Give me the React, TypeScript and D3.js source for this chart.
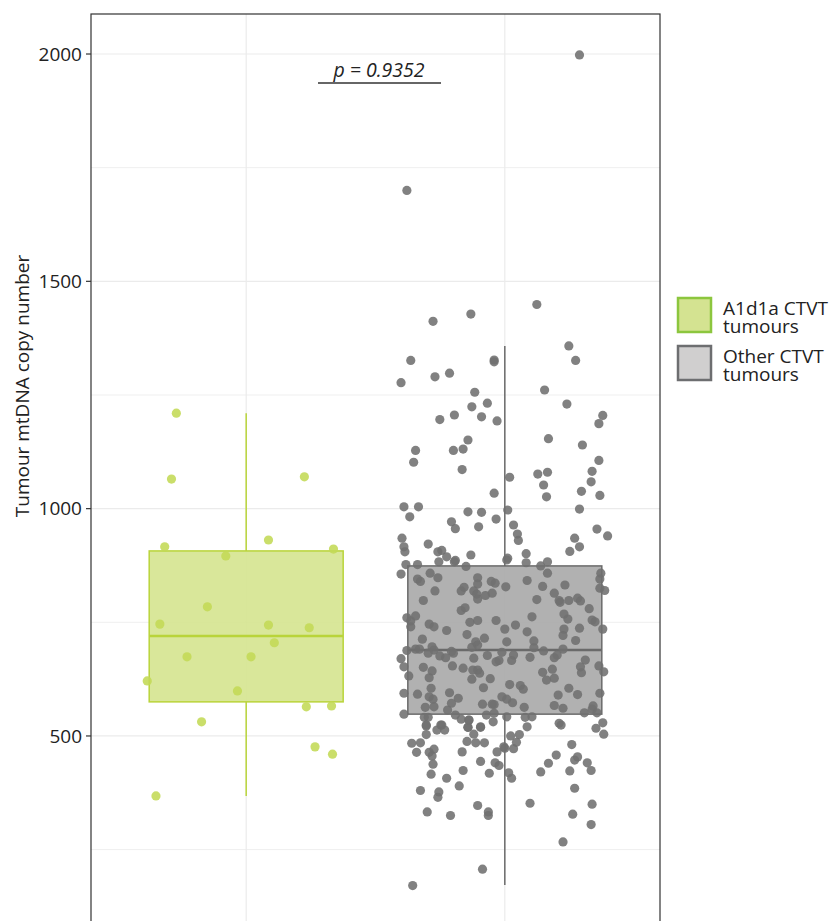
import React from 'react';
import * as d3 from 'd3';

// groups and summary stats
const groups = ['A1d1a', 'Other'];
const legendLines = [['A1d1a CTVT', 'tumours'], ['Other CTVT', 'tumours']];
const yTicks = [500, 1000, 1500, 2000];
const yMinor = [250, 750, 1250, 1750];
const boxLow = [368, 172];
const boxQ1 = [575, 548];
const boxMedian = [720, 689];
const boxQ3 = [907, 874];
const boxHigh = [1210, 1358];

// [jitter (fraction of half box width), copy number]
const greenPoints: [number, number][] = [
  [-0.72, 1210], [-0.77, 1065], [0.60, 1070], [-0.84, 916], [0.23, 931], [0.90, 911],
  [-0.21, 896], [-0.40, 784], [-0.89, 746], [0.23, 744], [0.65, 738], [0.29, 705],
  [-0.61, 674], [0.05, 674], [-1.02, 621], [-0.09, 599], [0.62, 564], [0.88, 566],
  [-0.46, 531], [0.71, 476], [0.89, 460], [-0.93, 368],
];

const greyPoints: [number, number][] = [
  [0.77, 1998], [-1.01, 1700], [0.33, 1449], [-0.74, 1412], [-0.35, 1428], [-0.97, 1326],
  [-0.11, 1327], [-0.11, 1323], [0.66, 1358], [0.73, 1326], [-1.07, 1277], [-0.72, 1290],
  [-0.57, 1298], [-0.31, 1256], [0.41, 1261],
  [-0.34, 1224], [-0.18, 1232], [0.64, 1230], [-0.67, 1196], [-0.52, 1206], [-0.24, 1202],
  [-0.08, 1193], [1.01, 1205], [0.97, 1187], [-0.38, 1151], [0.45, 1154], [-0.92, 1128],
  [-0.53, 1128], [-0.43, 1131], [0.80, 1140], [-0.94, 1102], [0.97, 1106], [-0.44, 1086],
  [0.05, 1069], [0.34, 1076], [0.44, 1080], [0.90, 1082], [0.40, 1052], [0.89, 1059],
  [-0.11, 1034], [0.43, 1026], [0.79, 1038], [0.98, 1029], [-1.04, 1004], [-0.89, 1004],
  [-0.98, 982], [-0.38, 993], [-0.24, 992], [0.03, 997], [0.77, 999], [-0.09, 977],
  [-0.55, 971], [-0.51, 956], [-0.27, 960], [0.09, 964], [0.13, 944], [0.14, 930],
  [-1.06, 935], [-1.04, 916], [-1.03, 905], [-0.79, 922], [-0.69, 905], [-0.65, 908],
  [-0.60, 894], [-0.35, 898], [-0.51, 886], [0.03, 891], [0.22, 901], [0.67, 906],
  [0.77, 916], [0.72, 935], [0.95, 955], [1.06, 940],
  [-1.02, 877], [-0.90, 877], [-0.68, 883], [-0.52, 883], [-0.40, 873], [0.22, 881],
  [0.37, 874], [0.44, 883], [0.02, 887], [-1.07, 856], [-0.90, 845], [-0.87, 840],
  [-0.77, 858], [-0.69, 848], [-0.28, 848], [-0.28, 834], [-0.42, 827], [-0.45, 819],
  [-0.32, 819], [-0.29, 812], [-0.28, 801], [-0.20, 809], [-0.13, 814], [-0.14, 840],
  [-0.10, 836], [0.01, 828], [0.23, 842], [0.44, 858], [0.39, 829], [0.62, 832],
  [0.51, 814], [0.56, 798], [0.57, 794], [0.66, 798], [0.75, 803], [0.78, 797],
  [0.33, 800], [0.99, 858], [0.98, 845], [0.98, 825], [1.03, 820], [-0.72, 819],
  [-0.84, 798], [-0.45, 776], [-0.41, 782], [0.87, 780], [-1.01, 760], [-0.97, 753],
  [-0.97, 740], [-0.92, 764], [-0.78, 746], [-0.73, 740], [-0.60, 732], [-0.36, 750],
  [-0.28, 754], [-0.09, 754], [0.00, 735], [0.11, 744], [0.23, 729], [0.28, 762],
  [0.61, 768], [0.65, 757], [0.61, 735], [0.60, 721], [0.77, 737], [0.90, 755],
  [0.93, 751], [1.01, 735], [-0.85, 713], [-0.39, 723], [-0.30, 707], [-0.28, 700],
  [-0.21, 715], [0.02, 707], [0.30, 709], [0.73, 710], [-0.34, 695], [-0.75, 696],
  [-0.73, 689], [-0.92, 691], [-1.01, 688], [-0.88, 691], [-0.79, 682], [-0.55, 686],
  [-0.53, 682], [-0.03, 684], [0.09, 678], [0.26, 673], [0.30, 694], [0.40, 687],
  [0.51, 672], [0.60, 691], [0.54, 678], [-1.07, 670], [-1.04, 652], [-0.99, 632],
  [-0.84, 651], [-0.75, 643], [-0.78, 628], [-0.67, 676], [-0.61, 672], [-0.54, 654],
  [-0.43, 649], [-0.32, 671], [-0.33, 645], [-0.28, 645], [-0.26, 638], [-0.34, 625],
  [-0.15, 626], [-0.09, 663], [-0.06, 666], [0.07, 666], [-0.18, 677], [0.39, 640],
  [0.43, 623], [0.49, 647], [0.51, 627], [0.83, 667], [0.78, 652], [0.79, 639],
  [0.97, 654], [1.02, 641], [-1.04, 594], [-0.90, 592], [-0.76, 605], [-0.78, 586],
  [-0.74, 581], [-0.73, 564], [-0.57, 595], [-0.55, 572], [-0.48, 583], [-0.82, 563],
  [-0.83, 541], [-0.79, 541], [-0.59, 557], [-0.51, 546], [-0.45, 537], [-0.37, 535],
  [-0.22, 606], [-0.23, 570], [-0.13, 570], [-0.11, 569], [-0.03, 586], [0.02, 581],
  [0.08, 573], [0.05, 613], [0.16, 611], [0.19, 603], [0.20, 563], [0.28, 542],
  [0.21, 541], [0.55, 590], [0.51, 567], [0.60, 561], [0.66, 605], [0.75, 591],
  [0.82, 551], [0.91, 566], [0.90, 559], [0.98, 594], [0.95, 551], [-1.04, 548],
  [-0.11, 550], [0.02, 542], [-0.19, 546], [-0.81, 524], [-0.66, 524], [-0.38, 519],
  [-0.25, 520], [-0.12, 531], [0.23, 520], [0.56, 528], [0.58, 524], [0.94, 517],
  [1.01, 529],
  [-0.81, 522], [-0.81, 503], [-0.65, 524], [-0.70, 513], [-0.62, 513], [-0.38, 519],
  [-0.25, 519], [-0.37, 535], [1.02, 504], [-0.96, 484], [-0.87, 485], [-0.91, 464],
  [-0.78, 464], [-0.73, 471], [-0.75, 456], [-0.74, 438], [-0.76, 416], [-0.60, 407],
  [-0.87, 380], [-0.68, 377], [-0.69, 365], [-0.80, 333], [-0.56, 325], [-0.47, 390],
  [-0.43, 424], [-0.44, 465], [-0.39, 488], [-0.32, 504], [-0.30, 485], [-0.21, 485],
  [-0.25, 444], [-0.16, 418], [-0.10, 441], [-0.06, 435], [-0.08, 465], [-0.01, 476],
  [0.00, 473], [0.09, 472], [0.12, 486], [0.15, 503], [0.06, 500], [0.04, 419],
  [0.07, 407], [-0.28, 347], [-0.17, 333], [-0.17, 325], [-0.23, 207], [-0.95, 171],
  [0.26, 352], [0.37, 421], [0.45, 440], [0.53, 458], [0.67, 423], [0.72, 447],
  [0.75, 454], [0.69, 481], [0.85, 441], [0.89, 424], [0.72, 385], [0.90, 350],
  [0.70, 328], [0.89, 305], [0.60, 267],
];

const pointsByGroup = [greenPoints, greyPoints];
const boxFill = ['#d5e48f', '#a9a9a9'];
const boxStroke = ['#b9d43a', '#6a6a6a'];
const dotColor = ['#c3da55', '#6f6f6f'];
const legendFill = ['#d4e391', '#d0cfcf'];
const legendStroke = ['#8cc63e', '#6d6e70'];

const W = 834, H = 921;
const panel = { left: 91, right: 660, top: 14, bottom: 921 };
const font = '"Open Sans", "Noto Sans", sans-serif';

export default function App() {
  const y = d3.scaleLinear().domain([93, 2088]).range([panel.bottom, panel.top]);
  const x = d3.scalePoint<string>().domain(groups).range([panel.left, panel.right]).padding(0.6);
  const half = x.step() * 0.375;

  return (
    <svg width={W} height={H} style={{ position: 'absolute', left: 0, top: 0, background: '#fff' }}>
      {/* grid */}
      {yMinor.map(t => (
        <line key={'m' + t} x1={panel.left} x2={panel.right} y1={y(t)} y2={y(t)} stroke="#efefef" strokeWidth={1} />
      ))}
      {yTicks.map(t => (
        <line key={'g' + t} x1={panel.left} x2={panel.right} y1={y(t)} y2={y(t)} stroke="#ebebeb" strokeWidth={1.2} />
      ))}
      {groups.map(g => (
        <line key={'v' + g} x1={x(g)} x2={x(g)} y1={panel.top} y2={panel.bottom} stroke="#ebebeb" strokeWidth={1.2} />
      ))}

      {/* boxes */}
      {groups.map((g, i) => {
        const cx = x(g)!;
        return (
          <g key={'b' + g}>
            <line x1={cx} x2={cx} y1={y(boxHigh[i])} y2={y(boxQ3[i])} stroke={boxStroke[i]} strokeWidth={1.5} />
            <line x1={cx} x2={cx} y1={y(boxQ1[i])} y2={y(boxLow[i])} stroke={boxStroke[i]} strokeWidth={1.5} />
            <rect x={cx - half} y={y(boxQ3[i])} width={half * 2} height={y(boxQ1[i]) - y(boxQ3[i])}
              fill={boxFill[i]} fillOpacity={0.9} stroke={boxStroke[i]} strokeWidth={1.5} />
            <line x1={cx - half} x2={cx + half} y1={y(boxMedian[i])} y2={y(boxMedian[i])} stroke={boxStroke[i]} strokeWidth={2.5} />
          </g>
        );
      })}

      {/* jittered points */}
      {groups.map((g, i) => (
        <g key={'p' + g}>
          {pointsByGroup[i].map(([j, v], k) => (
            <circle key={k} cx={x(g)! + j * half} cy={y(v)} r={4.6} fill={dotColor[i]} fillOpacity={0.88} />
          ))}
        </g>
      ))}

      {/* panel border */}
      <rect x={panel.left} y={panel.top} width={panel.right - panel.left} height={panel.bottom - panel.top + 10}
        fill="none" stroke="#333" strokeWidth={1.2} />

      {/* y axis */}
      {yTicks.map(t => (
        <g key={'t' + t}>
          <line x1={panel.left - 5} x2={panel.left} y1={y(t)} y2={y(t)} stroke="#333" strokeWidth={1.2} />
          <text x={panel.left - 9} y={y(t)} dy="0.36em" textAnchor="end" fontFamily={font} fontSize={19} fill="#222">{t}</text>
        </g>
      ))}
      <text transform={`translate(29, 386) rotate(-90)`} textAnchor="middle" fontFamily={font} fontSize={19} fill="#222">
        Tumour mtDNA copy number
      </text>

      {/* p value */}
      <text x={379} y={77} textAnchor="middle" fontFamily={font} fontStyle="italic" fontSize={19.5} fill="#222">p = 0.9352</text>
      <line x1={318} x2={441} y1={83} y2={83} stroke="#333" strokeWidth={1.3} />

      {/* legend */}
      {legendLines.map((lines, i) => (
        <g key={'l' + i} transform={`translate(678, ${298 + i * 48})`}>
          <rect x={0} y={0} width={33} height={34} fill={legendFill[i]} stroke={legendStroke[i]} strokeWidth={2.5} />
          <text x={45} y={17} fontFamily={font} fontSize={19} fill="#222">{lines[0]}</text>
          <text x={45} y={35} fontFamily={font} fontSize={19} fill="#222">{lines[1]}</text>
        </g>
      ))}
    </svg>
  );
}
